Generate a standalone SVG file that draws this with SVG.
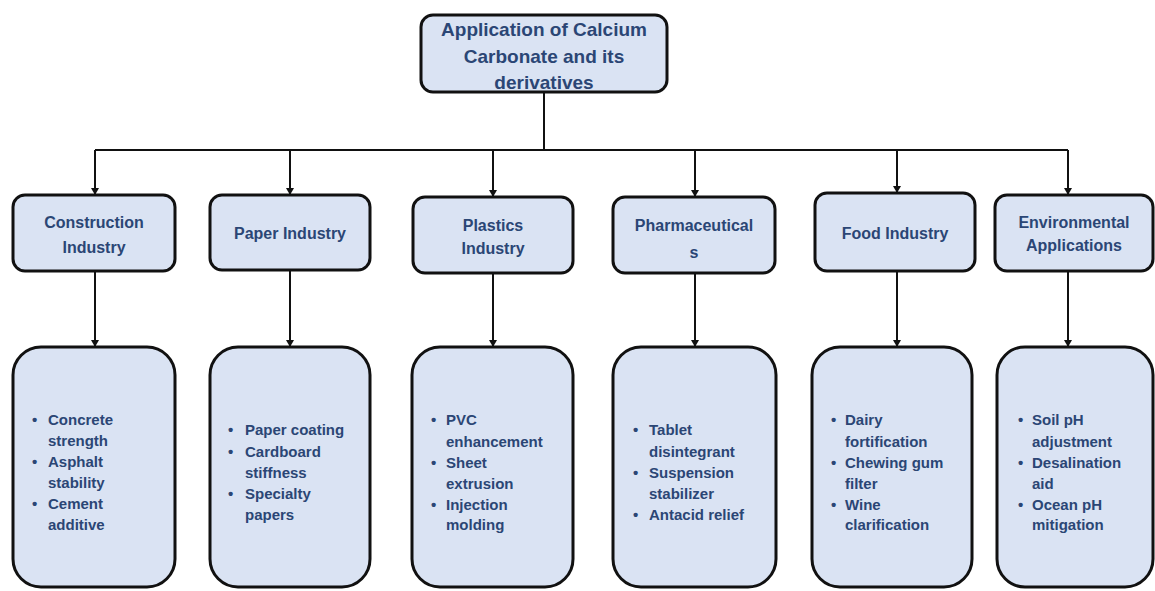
<svg xmlns="http://www.w3.org/2000/svg" width="1155" height="591" viewBox="0 0 1155 591">
<style>
.box{fill:#DAE3F3;stroke:#111;stroke-width:3}
.t{font-family:"Liberation Sans",Arial,sans-serif;font-weight:bold;fill:#2B4675}
.h{font-size:19px;text-anchor:middle}
.c{font-size:16px;text-anchor:middle}
.d{font-size:15px}
.ln{stroke:#111;stroke-width:2;fill:none}
</style>
<defs>
<marker id="ar" markerWidth="8" markerHeight="8" refX="6" refY="4" orient="auto" markerUnits="userSpaceOnUse">
<path d="M0,0 L7,4 L0,8 Z" fill="#111"/>
</marker>
</defs>
<rect width="1155" height="591" fill="#fff"/>
<g id="connectors">
<path class="ln" d="M544,92 V150"/>
<path class="ln" d="M95,150 H1068"/>
<path class="ln" d="M95,150 V194" marker-end="url(#ar)"/>
<path class="ln" d="M290,150 V194" marker-end="url(#ar)"/>
<path class="ln" d="M493,150 V196" marker-end="url(#ar)"/>
<path class="ln" d="M695,150 V196" marker-end="url(#ar)"/>
<path class="ln" d="M897,150 V192" marker-end="url(#ar)"/>
<path class="ln" d="M1068,150 V194" marker-end="url(#ar)"/>
<path class="ln" d="M95,271 V346" marker-end="url(#ar)"/>
<path class="ln" d="M290,270 V346" marker-end="url(#ar)"/>
<path class="ln" d="M493,273 V346" marker-end="url(#ar)"/>
<path class="ln" d="M695,273 V346" marker-end="url(#ar)"/>
<path class="ln" d="M897,271 V346" marker-end="url(#ar)"/>
<path class="ln" d="M1068,271 V346" marker-end="url(#ar)"/>
</g>
<g id="root">
<rect class="box" x="421" y="15" width="246" height="77" rx="12"/>
<text class="t h" x="544" y="36">Application of Calcium</text>
<text class="t h" x="544" y="63">Carbonate and its</text>
<text class="t h" x="544" y="89">derivatives</text>
</g>
<g id="construction">
<rect class="box" x="13" y="195" width="162" height="76" rx="12"/>
<text class="t c" x="94" y="228">Construction</text>
<text class="t c" x="94" y="253">Industry</text>
</g>
<g id="paper">
<rect class="box" x="210" y="195" width="160" height="75" rx="12"/>
<text class="t c" x="290" y="239">Paper Industry</text>
</g>
<g id="plastics">
<rect class="box" x="413" y="197" width="160" height="76" rx="12"/>
<text class="t c" x="493" y="231">Plastics</text>
<text class="t c" x="493" y="254">Industry</text>
</g>
<g id="pharma">
<rect class="box" x="613" y="197" width="162" height="76" rx="12"/>
<text class="t c" x="694" y="231">Pharmaceutical</text>
<text class="t c" x="694" y="258">s</text>
</g>
<g id="food">
<rect class="box" x="815" y="193" width="160" height="78" rx="12"/>
<text class="t c" x="895" y="239">Food Industry</text>
</g>
<g id="environmental">
<rect class="box" x="995" y="195" width="158" height="76" rx="12"/>
<text class="t c" x="1074" y="228">Environmental</text>
<text class="t c" x="1074" y="251">Applications</text>
</g>
<g id="construction-details">
<rect class="box" x="13" y="347" width="162" height="240" rx="28"/>
<text class="t d" x="32" y="425">•</text><text class="t d" x="48" y="425">Concrete</text>
<text class="t d" x="48" y="446">strength</text>
<text class="t d" x="32" y="467">•</text><text class="t d" x="48" y="467">Asphalt</text>
<text class="t d" x="48" y="488">stability</text>
<text class="t d" x="32" y="509">•</text><text class="t d" x="48" y="509">Cement</text>
<text class="t d" x="48" y="530">additive</text>
</g>
<g id="paper-details">
<rect class="box" x="210" y="347" width="160" height="240" rx="28"/>
<text class="t d" x="228" y="435">•</text><text class="t d" x="245" y="435">Paper coating</text>
<text class="t d" x="228" y="457">•</text><text class="t d" x="245" y="457">Cardboard</text>
<text class="t d" x="245" y="478">stiffness</text>
<text class="t d" x="228" y="499">•</text><text class="t d" x="245" y="499">Specialty</text>
<text class="t d" x="245" y="520">papers</text>
</g>
<g id="plastics-details">
<rect class="box" x="412" y="347" width="161" height="240" rx="28"/>
<text class="t d" x="431" y="425">•</text><text class="t d" x="446" y="425">PVC</text>
<text class="t d" x="446" y="447">enhancement</text>
<text class="t d" x="431" y="468">•</text><text class="t d" x="446" y="468">Sheet</text>
<text class="t d" x="446" y="489">extrusion</text>
<text class="t d" x="431" y="510">•</text><text class="t d" x="446" y="510">Injection</text>
<text class="t d" x="446" y="530">molding</text>
</g>
<g id="pharma-details">
<rect class="box" x="613" y="347" width="163" height="240" rx="28"/>
<text class="t d" x="633" y="435">•</text><text class="t d" x="649" y="435">Tablet</text>
<text class="t d" x="649" y="457">disintegrant</text>
<text class="t d" x="633" y="478">•</text><text class="t d" x="649" y="478">Suspension</text>
<text class="t d" x="649" y="499">stabilizer</text>
<text class="t d" x="633" y="520">•</text><text class="t d" x="649" y="520">Antacid relief</text>
</g>
<g id="food-details">
<rect class="box" x="812" y="347" width="160" height="240" rx="28"/>
<text class="t d" x="831" y="425">•</text><text class="t d" x="845" y="425">Dairy</text>
<text class="t d" x="845" y="447">fortification</text>
<text class="t d" x="831" y="468">•</text><text class="t d" x="845" y="468">Chewing gum</text>
<text class="t d" x="845" y="489">filter</text>
<text class="t d" x="831" y="510">•</text><text class="t d" x="845" y="510">Wine</text>
<text class="t d" x="845" y="530">clarification</text>
</g>
<g id="environmental-details">
<rect class="box" x="997" y="347" width="156" height="240" rx="28"/>
<text class="t d" x="1018" y="425">•</text><text class="t d" x="1032" y="425">Soil pH</text>
<text class="t d" x="1032" y="447">adjustment</text>
<text class="t d" x="1018" y="468">•</text><text class="t d" x="1032" y="468">Desalination</text>
<text class="t d" x="1032" y="489">aid</text>
<text class="t d" x="1018" y="510">•</text><text class="t d" x="1032" y="510">Ocean pH</text>
<text class="t d" x="1032" y="530">mitigation</text>
</g>
</svg>
